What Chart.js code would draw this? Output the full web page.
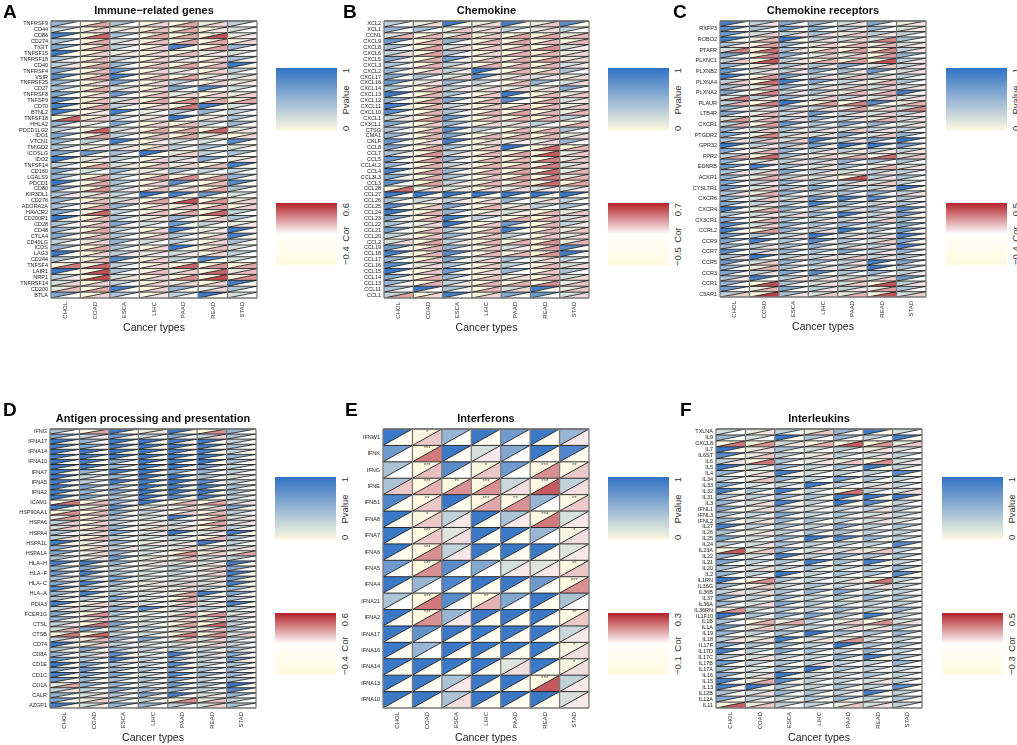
<!DOCTYPE html>
<html>
<head>
<meta charset="utf-8">
<script src="https://cdn.jsdelivr.net/npm/chart.js@4.4.1/dist/chart.umd.min.js"></script>
<style>
body { margin: 0; background: #fff; width: 1017px; height: 745px; position: relative; overflow: hidden; font-family: "Liberation Sans", Arial, sans-serif; }
canvas { position: absolute; }
.tag { position: absolute; font-weight: bold; font-size: 19px; line-height: 19px; color: #000; font-family: "Liberation Sans", Arial, sans-serif; }
.ttl { position: absolute; font-weight: bold; line-height: 14px; color: #111; white-space: nowrap; transform: translateX(-50%); }
.bar { position: absolute; width: 61px; }
.lg { position: absolute; color: #333; writing-mode: vertical-rl; white-space: nowrap; }
</style>
</head>
<body>
<script>
const cancerTypes = ['CHOL', 'COAD', 'ESCA', 'LIHC', 'PAAD', 'READ', 'STAD'];

// ---- A: immune-related genes
const genesA = ['TNFRSF9','CD44','CD86','CD274','TIGIT','TNFSF15','TNFRSF18','CD40','TNFRSF4','VSIR','TNFRSF25','CD27','TNFRSF8','TNFSF9','CD70','BTNL2','TNFSF18','HHLA2','PDCD1LG2','IDO1','VTCN1','TMIGD2','ICOSLG','IDO2','TNFSF14','CD160','LGALS9','PDCD1','CD80','KIR3DL1','CD276','ADORA2A','HAVCR2','CD200R1','CD28','CD48','CTLA4','CD40LG','ICOS','LAG3','CD244','TNFSF4','LAIR1','NRP1','TNFRSF14','CD200','BTLA'];
const pvalA = [
[.5,.0,.4,.0,.0,.1,.3],[.3,.0,.1,.0,.0,.0,.2],[.9,.0,.4,.0,.0,.0,.1],[.4,.0,.2,.0,.0,.0,.0],
[.6,.0,.3,.0,.9,.0,.5],[.95,.0,.1,.0,.0,.1,.2],[.4,.0,.3,.0,.1,.0,.4],[.3,.0,.5,.0,.0,.0,.95],
[.6,.0,.7,.0,.1,.0,.3],[.8,.0,.9,.0,.0,.1,.2],[.5,.0,.6,.0,.3,.0,.1],[.4,.0,.2,.0,.6,.8,.2],
[.6,.0,.7,.0,.1,.0,.1],[.8,.0,.2,.0,.0,.0,.0],[.9,.0,.3,.0,.0,.9,.2],[.9,.0,.9,.1,.4,.5,.3],
[.0,.0,.3,.1,.95,.1,.4],[.5,.1,.6,.0,.0,.3,.5],[.3,.0,.2,.0,.0,.0,.1],[.6,.0,.3,.0,.0,.1,.0],
[.5,.3,.9,.0,.2,.2,.8],[.4,.1,.2,.0,.3,.4,.2],[.6,.7,.4,.95,.1,.3,.4],[.95,.1,.3,.0,.2,.6,.1],
[.3,.0,.2,.0,.1,.0,.9],[.6,.2,.5,.1,.4,.3,.3],[.5,.0,.3,.0,.0,.0,.5],[.95,.0,.4,.0,.8,.0,.8],
[.6,.0,.3,.0,.1,.0,.4],[.4,.1,.3,.95,.9,.7,.2],[.5,.0,.2,.0,.0,.0,.1],[.4,.0,.5,.0,.0,.0,.0],
[.6,.0,.3,.0,.0,.0,.3],[.95,.0,.4,.1,.5,.0,.4],[.4,.0,.6,.2,.7,.3,.1],[.5,.0,.3,.0,.9,.1,.95],
[.6,.0,.4,.0,.4,.0,.9],[.3,.1,.5,.2,.3,.0,.4],[.5,.0,.4,.0,.95,.0,.2],[.95,.0,.3,.1,.2,.0,.3],
[.4,.0,.8,.0,.3,.8,.2],[.0,.0,.3,.0,.0,.0,.0],[.95,.0,.4,.0,.1,.0,.1],[.3,.0,.2,.0,.0,.0,.0],
[.2,.0,.3,.0,.1,.0,.9],[.1,.0,.9,.0,.5,.1,.4],[.6,.0,.4,.0,.3,.95,.2]
];
const corA = [
[.1,.3,.1,.2,.3,.2,.1],[.0,.2,.15,.25,.3,.15,.1],[.05,.45,.1,.3,.3,.5,.15],[.1,.3,.15,.25,.3,.3,.2],
[.05,.3,.1,.2,.0,.3,.1],[.0,.2,.15,.2,.25,.15,.1],[.1,.25,.1,.2,.15,.2,.05],[.15,.3,.05,.25,.3,.25,.0],
[.05,.25,.05,.2,.15,.2,.1],[.0,.3,.0,.25,.3,.15,.15],[.05,.2,.05,.2,.1,.2,.15],[.1,.3,.15,.2,.05,.0,.1],
[.05,.2,.05,.25,.2,.2,.2],[.05,.25,.2,.3,.35,.3,.3],[.0,.3,.1,.2,.4,.0,.1],[.0,.15,.0,.1,.05,.05,.1],
[.45,.2,.1,.15,.0,.15,.05],[.05,.1,.05,.2,.25,.1,.05],[.1,.45,.15,.3,.3,.45,.15],[.05,.3,.1,.25,.3,.15,.2],
[.05,.1,.0,.15,.1,.1,.0],[.1,.15,.15,.2,.1,.05,.1],[.05,.0,.1,.0,.2,.1,.05],[.0,.15,.1,.2,.15,.05,.15],
[.1,.3,.15,.25,.2,.25,.0],[.05,.1,.05,.15,.1,.1,.1],[.1,.3,.1,.3,.35,.3,.05],[.0,.3,.1,.2,.0,.25,.0],
[.05,.35,.15,.25,.2,.3,.05],[.15,.2,.1,.0,.0,.0,.1],[.05,.25,.2,.3,.5,.35,.2],[.1,.3,.05,.2,.25,.3,.2],
[.1,.45,.1,.25,.3,.45,.1],[.0,.25,.1,.15,.05,.2,.05],[.1,.25,.05,.1,.0,.1,.15],[.05,.3,.1,.2,.0,.15,.0],
[.05,.25,.1,.2,.1,.2,.0],[.1,.2,.05,.1,.1,.2,.05],[.05,.3,.1,.2,.0,.25,.1],[.0,.2,.15,.15,.15,.2,.1],
[.1,.25,.0,.2,.1,.0,.1],[.4,.45,.1,.2,.45,.35,.3],[.0,.5,.1,.25,.2,.45,.25],[.15,.5,.15,.2,.35,.5,.35],
[.2,.2,.1,.2,.2,.2,.0],[.25,.3,.0,.2,.05,.2,.1],[.05,.2,.1,.15,.1,.0,.1]
];

// ---- B: chemokine
const genesB = ['XCL2','XCL1','CCN1','CXCL9','CXCL8','CXCL6','CXCL5','CXCL3','CXCL2','CXCL17','CXCL16','CXCL14','CXCL13','CXCL12','CXCL11','CXCL10','CXCL1','CX3CL1','CTSG','CMA1','CKLF','CCL8','CCL7','CCL5','CCL4L2','CCL4','CCL3L3','CCL3','CCL28','CCL27','CCL26','CCL25','CCL24','CCL23','CCL22','CCL21','CCL20','CCL2','CCL19','CCL18','CCL17','CCL16','CCL15','CCL14','CCL13','CCL11','CCL1'];
const pvalB = [
[.3,.1,.95,.1,.9,.1,.8],[.5,.4,.1,.1,.3,.1,.3],[.2,.0,.1,.0,.0,.0,.1],[.7,.0,.5,.0,.0,.0,.0],
[.4,.0,.2,.0,.0,.0,.2],[.3,.0,.4,.0,.0,.0,.1],[.6,.0,.7,.0,.0,.0,.1],[.4,.0,.3,.0,.0,.0,.2],
[.5,.0,.3,.95,.0,.0,.4],[.6,.4,.2,.8,.1,.2,.1],[.7,.1,.5,.3,.0,.5,.2],[.4,.0,.3,.1,.1,.1,.6],
[.95,.0,.4,.0,.95,.0,.1],[.5,.0,.6,.0,.8,.0,.2],[.9,.0,.3,.0,.0,.0,.1],[.8,.0,.4,.0,.0,.0,.1],
[.3,.0,.7,.0,.0,.0,.3],[.6,.0,.5,.0,.1,.3,.0],[.4,.0,.8,.3,.0,.0,.4],[.5,.0,.6,.0,.0,.0,.1],
[.7,.0,.9,.0,.1,.1,.5],[.6,.0,.4,.0,.95,.0,.0],[.4,.0,.3,.0,.0,.0,.1],[.7,.0,.5,.0,.0,.0,.1],
[.5,.0,.3,.0,.0,.0,.2],[.9,.0,.5,.0,.0,.0,.1],[.6,.0,.4,.0,.0,.0,.1],[.8,.0,.3,.0,.0,.0,.0],
[.0,.1,.2,.0,.1,.2,.2],[.95,.95,.95,.95,.95,.95,.95],[.4,.2,.3,.0,.5,.1,.3],[.8,.0,.6,.0,.1,.3,.4],
[.95,.0,.5,.0,.2,.0,.1],[.6,.0,.9,.3,.0,.0,.2],[.4,.1,.95,.0,.7,.0,.3],[.7,.0,.4,.0,.9,.0,.1],
[.3,.0,.5,.0,.3,.0,.1],[.2,.0,.3,.0,.0,.0,.1],[.7,.0,.5,.0,.2,.0,.8],[.9,.0,.8,.0,.0,.0,.9],
[.5,.0,.6,.1,.4,.1,.3],[.8,.1,.4,.0,.3,.0,.2],[.95,.0,.7,.0,.5,.0,.4],[.6,.0,.5,.0,.1,.0,.2],
[.5,.0,.3,.0,.0,.0,.1],[.4,.95,.4,.0,.2,.9,.1],[.3,.0,.9,.0,.6,.7,.2]
];
const corB = [
[.1,.2,.0,.2,.0,.25,.0],[.05,.1,.25,.2,.1,.2,.1],[.3,.3,.3,.25,.35,.35,.3],[.05,.3,.1,.3,.35,.3,.3],
[.1,.35,.2,.25,.3,.4,.15],[.2,.35,.1,.2,.3,.3,.2],[.1,.3,.05,.25,.3,.35,.2],[.1,.3,.15,.3,.3,.3,.15],
[.05,.25,.15,.0,.3,.25,.1],[.05,.1,.2,.0,.2,.15,.2],[.0,.2,.1,.1,.3,.05,.2],[.1,.3,.15,.2,.2,.2,.05],
[.0,.3,.1,.25,.0,.3,.25],[.1,.35,.05,.3,.05,.35,.15],[.0,.3,.15,.25,.3,.3,.25],[.05,.3,.1,.3,.35,.3,.3],
[.15,.35,.05,.25,.3,.3,.1],[.05,.25,.1,.2,.2,.1,.3],[.1,.3,.0,.1,.3,.3,.1],[.1,.3,.05,.3,.3,.3,.2],
[.0,.2,.0,.2,.15,.2,.05],[.05,.35,.1,.25,.0,.5,.3],[.15,.4,.15,.3,.35,.55,.25],[.05,.35,.1,.3,.3,.45,.25],
[.1,.3,.15,.3,.3,.45,.2],[.0,.35,.1,.3,.35,.5,.3],[.05,.3,.1,.25,.35,.45,.3],[.05,.35,.15,.3,.3,.5,.35],
[.5,.2,.15,.2,.2,.15,.15],[.0,.0,.0,.0,.0,.0,.0],[.1,.15,.15,.2,.1,.2,.1],[.0,.25,.05,.3,.2,.1,.05],
[.0,.3,.1,.2,.15,.3,.25],[.05,.3,.0,.1,.3,.3,.2],[.1,.2,.0,.25,.05,.3,.15],[.05,.3,.1,.3,.0,.3,.25],
[.15,.25,.1,.25,.1,.25,.2],[.2,.35,.15,.3,.3,.4,.3],[.05,.3,.1,.25,.15,.35,.0],[.0,.3,.05,.3,.3,.4,.0],
[.1,.25,.05,.2,.1,.2,.1],[.05,.2,.1,.25,.1,.3,.2],[.0,.25,.05,.2,.1,.25,.1],[.05,.3,.1,.25,.2,.3,.2],
[.1,.3,.15,.3,.3,.4,.25],[.1,.0,.1,.3,.2,.0,.25],[.35,.2,.0,.2,.05,.05,.2]
];

// ---- C: chemokine receptors (only every other row is labelled)
const genesC = ['','RXFP3','','ROBO2','','PTAFR','','PLXNC1','','PLXNB2','','PLXNA4','','PLXNA2','','PLAUR','','LTB4R','','CXCR1','','PTGDR2','','GPR32','','FPR2','','EDNRB','','ACKR1','','CYSLTR1','','CXCR6','','CXCR4','','CX3CR1','','CCRL2','','CCR9','','CCR7','','CCR5','','CCR3','','CCR1','','C5AR1'];
const pvalC = [
[.9,.3,.6,.5,.2,.6,.1],[.8,.4,.7,.6,.3,.5,.2],[.7,.2,.3,.4,.1,.3,.3],[.9,.1,.95,.3,.2,.2,.4],
[.4,.0,.5,.1,.0,.1,.2],[.2,.0,.4,.0,.0,.0,.3],[.6,.0,.5,.1,.1,.0,.5],[.3,.0,.3,.0,.0,.0,.3],
[.5,.1,.4,.4,.6,.2,.3],[.7,.2,.3,.5,.4,.7,.2],[.9,.0,.6,.3,.2,.3,.3],[.3,.0,.9,.6,.3,.1,.4],
[.4,.1,.5,.3,.2,.2,.2],[.6,.0,.3,.4,.1,.1,.9],[.2,.3,.5,.2,.3,.2,.2],[.3,.0,.95,.0,.0,.8,.1],
[.5,.2,.4,.3,.1,.1,.2],[.6,.1,.3,.7,.3,.2,.3],[.2,.1,.3,.5,.3,.1,.2],[.3,.0,.7,.4,.6,.5,.2],
[.5,.2,.4,.3,.2,.3,.3],[.6,.1,.3,.2,.6,.2,.5],[.4,.3,.2,.9,.3,.6,.95],[.95,.3,.4,.7,.95,.95,.7],
[.6,.1,.5,.3,.3,.3,.3],[.3,.0,.4,.1,.1,.0,.2],[.5,.2,.3,.3,.5,.4,.4],[.7,.9,.4,.2,.4,.1,.2],
[.4,.2,.6,.3,.2,.3,.3],[.5,.1,.3,.2,.0,.3,.4],[.6,.3,.5,.4,.3,.2,.3],[.7,.2,.4,.6,.4,.3,.95],
[.4,.1,.5,.3,.4,.5,.3],[.5,.2,.3,.7,.9,.8,.4],[.6,.3,.4,.9,.5,.3,.4],[.95,.1,.5,.4,.3,.4,.8],
[.4,.2,.3,.5,.9,.3,.7],[.6,.1,.4,.3,.3,.2,.5],[.8,.2,.5,.4,.5,.4,.6],[.9,.0,.5,.3,.95,.4,.7],
[.7,.4,.3,.95,.3,.3,.9],[.6,.9,.4,.8,.4,.2,.6],[.5,.3,.4,.5,.3,.3,.9],[.8,.3,.5,.4,.6,.3,.5],
[.4,.95,.3,.3,.2,.3,.4],[.7,.2,.5,.4,.3,.9,.6],[.5,.1,.4,.3,.3,.95,.4],[.6,.3,.6,.8,.4,.5,.3],
[.4,.9,.3,.3,.2,.2,.7],[.5,.0,.4,.2,.2,.0,.3],[.7,.1,.6,.3,.3,.1,.4],[.3,.0,.4,.2,.1,.0,.2]
];
const corC = [
[.0,.1,.05,.05,.1,.05,.1],[.0,.05,.0,.05,.1,.05,.1],[.05,.15,.1,.1,.15,.1,.05],[.0,.2,.0,.1,.15,.3,.05],
[.1,.25,.05,.15,.2,.2,.1],[.3,.35,.1,.2,.25,.3,.1],[.05,.3,.05,.15,.15,.25,.05],[.15,.4,.1,.2,.25,.4,.1],
[.05,.15,.1,.1,.05,.15,.1],[.05,.1,.1,.05,.1,.0,.1],[.0,.25,.05,.1,.15,.1,.05],[.15,.35,.0,.05,.1,.2,.05],
[.1,.2,.05,.1,.15,.15,.1],[.05,.3,.1,.1,.2,.2,.0],[.3,.1,.05,.15,.1,.15,.1],[.2,.3,.0,.25,.3,.0,.2],
[.05,.1,.1,.1,.25,.15,.3],[.05,.2,.1,.0,.1,.15,.1],[.25,.2,.1,.05,.1,.2,.1],[.2,.25,.05,.05,.05,.05,.1],
[.05,.15,.1,.1,.15,.1,.05],[.05,.3,.1,.1,.05,.15,.05],[.1,.15,.15,.0,.1,.05,.0],[.0,.1,.1,.0,.0,.0,.0],
[.05,.2,.05,.1,.1,.1,.1],[.2,.35,.1,.15,.2,.35,.15],[.05,.1,.1,.1,.05,.05,.05],[.05,.0,.05,.1,.05,.2,.1],
[.1,.15,.05,.1,.1,.1,.05],[.05,.2,.1,.1,.4,.1,.05],[.05,.1,.05,.05,.1,.15,.05],[.0,.15,.1,.05,.05,.1,.0],
[.1,.2,.05,.1,.05,.05,.1],[.05,.15,.1,.0,.0,.0,.05],[.05,.1,.05,.0,.05,.1,.05],[.0,.2,.05,.05,.1,.05,.0],
[.05,.1,.1,.05,.0,.1,.0],[.05,.2,.05,.1,.1,.15,.05],[.0,.15,.05,.05,.05,.05,.05],[.0,.25,.05,.1,.0,.05,.0],
[.0,.05,.1,.0,.1,.1,.0],[.0,.0,.05,.0,.05,.15,.0],[.05,.1,.05,.05,.1,.1,.0],[.0,.1,.05,.05,.05,.1,.05],
[.1,.0,.1,.1,.15,.1,.05],[.0,.15,.05,.05,.1,.0,.05],[.05,.2,.05,.1,.1,.0,.05],[.0,.1,.05,.0,.05,.05,.1],
[.1,.0,.1,.1,.15,.15,.0],[.05,.4,.05,.1,.15,.4,.1],[.0,.2,.05,.1,.1,.25,.05],[.15,.45,.1,.15,.2,.4,.15]
];

// ---- D: antigen processing and presentation (every other row labelled)
const genesD = ['IFNG','','IFNA17','','IFNA14','','IFNA10','','IFNA7','','IFNA5','','IFNA2','','ICAM1','','HSP90AA1','','HSPA6','','HSPA4','','HSPA1L','','HSPA1A','','HLA\u2212H','','HLA\u2212F','','HLA\u2212C','','HLA\u2212A','','PDIA3','','FCER1G','','CTSL','','CTSB','','CD74','','CD8A','','CD1E','','CD1C','','CD1A','','CALR','','AZGP1'];
const pvalD = [
[.4,.0,.95,.1,.95,.0,.5],[.6,.3,.7,.3,.6,.3,.4],[.95,.5,.95,.95,.9,.95,.3],[.9,.6,.9,.95,.95,.9,.4],
[.95,.95,.95,.95,.9,.9,.3],[.9,.9,.95,.95,.95,.9,.5],[.95,.9,.6,.95,.9,.95,.4],[.95,.9,.5,.9,.95,.7,.3],
[.9,.5,.9,.95,.6,.5,.3],[.95,.3,.5,.95,.95,.4,.2],[.9,.3,.9,.9,.95,.8,.3],[.95,.6,.5,.95,.9,.9,.4],
[.9,.5,.6,.95,.95,.95,.4],[.95,.6,.4,.95,.8,.9,.3],[.0,.0,.5,.95,.0,.0,.2],[.9,.1,.8,.2,.1,.1,.6],
[.0,.0,.6,.3,.0,.0,.3],[.1,.0,.4,.2,.9,.0,.2],[.3,.0,.3,.1,.3,.0,.2],[.2,.0,.5,.1,.2,.0,.3],
[.4,.1,.6,.2,.95,.2,.9],[.3,.0,.3,.2,.3,.0,.4],[.9,.1,.5,.1,.2,.9,.3],[.5,.0,.3,.2,.1,.1,.2],
[.6,.1,.5,.2,.0,.1,.1],[.4,.1,.7,.1,.1,.2,.3],[.9,.9,.5,.1,.2,.2,.9],[.5,.6,.3,.1,.3,.1,.6],
[.7,.9,.4,.2,.3,.1,.9],[.4,.5,.6,.2,.2,.2,.7],[.6,.9,.5,.1,.2,.2,.9],[.8,.5,.3,.1,.1,.3,.5],
[.5,.9,.4,.2,.1,.9,.6],[.4,.3,.6,.2,.0,.3,.4],[.9,.1,.3,.2,.1,.2,.9],[.3,.2,.5,.8,.2,.3,.3],
[.6,.0,.4,.1,.1,.0,.2],[.5,.1,.3,.2,.1,.1,.3],[.3,.0,.6,.2,.0,.0,.3],[.2,.6,.4,.3,.1,.1,.4],
[.0,.0,.3,.2,.0,.0,.2],[.3,.1,.5,.6,.1,.2,.3],[.95,.1,.3,.2,.2,.1,.3],[.4,.6,.5,.3,.3,.3,.4],
[.5,.3,.8,.2,.9,.3,.6],[.7,.4,.9,.3,.6,.3,.7],[.95,.6,.4,.3,.8,.3,.4],[.6,.7,.5,.4,.6,.4,.5],
[.9,.6,.6,.3,.8,.5,.5],[.7,.5,.4,.4,.6,.3,.4],[.1,.5,.5,.3,.7,.4,.95],[.3,.3,.6,.4,.5,.3,.8],
[.5,.2,.4,.6,.9,.2,.5],[.6,.1,.3,.3,.0,.1,.3],[.9,.2,.5,.5,.3,.2,.4]
];
const corD = [
[.1,.3,.0,.15,.0,.35,.05],[.05,.15,.0,.1,.05,.2,.05],[.0,.05,.0,.0,.0,.0,.1],[.0,.05,.0,.0,.0,.0,.05],
[.0,.0,.0,.0,.0,.0,.05],[.0,.0,.0,.0,.0,.0,.05],[.0,.0,.05,.0,.0,.0,.05],[.0,.0,.05,.0,.0,.05,.1],
[.0,.05,.0,.0,.05,.1,.1],[.0,.1,.05,.0,.0,.1,.1],[.0,.1,.0,.0,.0,.0,.05],[.0,.05,.05,.0,.0,.0,.05],
[.0,.05,.05,.0,.0,.0,.05],[.0,.05,.1,.0,.0,.0,.1],[.4,.25,.05,.0,.25,.3,.15],[.0,.2,.0,.15,.2,.2,.05],
[.35,.25,.05,.1,.2,.25,.1],[.3,.2,.1,.1,.0,.3,.15],[.2,.2,.1,.15,.1,.3,.15],[.2,.25,.05,.2,.15,.25,.1],
[.1,.2,.05,.15,.0,.15,.0],[.15,.25,.1,.1,.1,.25,.1],[.0,.15,.05,.15,.15,.0,.1],[.05,.2,.15,.1,.2,.2,.15],
[.05,.2,.05,.1,.35,.2,.3],[.1,.15,.05,.15,.25,.15,.1],[.0,.0,.05,.15,.15,.15,.0],[.05,.05,.1,.1,.1,.2,.05],
[.05,.0,.1,.1,.1,.2,.0],[.05,.05,.05,.1,.15,.15,.0],[.05,.0,.05,.15,.2,.15,.0],[.0,.1,.1,.15,.2,.1,.05],
[.05,.0,.1,.1,.3,.0,.05],[.1,.1,.05,.1,.3,.1,.05],[.0,.2,.15,.1,.25,.15,.0],[.15,.15,.05,.0,.15,.1,.1],
[.05,.35,.1,.1,.3,.35,.15],[.05,.25,.1,.1,.2,.25,.1],[.15,.4,.05,.1,.3,.45,.1],[.25,.05,.05,.1,.2,.25,.05],
[.4,.45,.1,.1,.4,.35,.2],[.15,.25,.05,.05,.2,.2,.1],[.0,.2,.1,.1,.15,.2,.1],[.05,.05,.05,.1,.1,.1,.05],
[.05,.15,.0,.1,.0,.15,.05],[.0,.1,.0,.1,.05,.1,.0],[.0,.05,.05,.1,.0,.1,.05],[.05,.05,.05,.05,.05,.05,.05],
[.0,.05,.05,.1,.0,.05,.05],[.0,.05,.05,.05,.05,.1,.05],[.3,.05,.05,.1,.05,.05,.0],[.15,.1,.05,.05,.05,.1,.0],
[.05,.15,.1,.05,.0,.15,.05],[.05,.2,.1,.1,.35,.25,.1],[.0,.15,.05,.05,.1,.2,.05]
];

// ---- E: interferons
const genesE = ['IFNW1','IFNK','IFNG','IFNE','IFNB1','IFNA8','IFNA7','IFNA6','IFNA5','IFNA4','IFNA21','IFNA2','IFNA17','IFNA16','IFNA14','IFNA13','IFNA10'];
const pvalE = [
[.95,.03,.5,.95,.7,.95,.5],[.7,.0004,.95,.2,.6,.95,.85],[.4,.0004,.8,.03,.7,.0004,.005],
[.4,.0004,.005,.0004,.25,.0004,.3],[.85,.005,.95,.0004,.005,.5,.005],[.95,.03,.3,.95,.4,.0004,.2],
[.95,.0004,.15,.95,.95,.5,.03],[.95,.0004,.3,.95,.95,.95,.15],[.7,.0004,.8,.6,.2,.15,.005],
[.95,.5,.85,.95,.95,.7,.0004],[.4,.0004,.8,.005,.6,.95,.4],[.95,.0004,.5,.95,.95,.95,.005],
[.95,.75,.95,.95,.95,.95,.25],[.95,.5,.95,.95,.95,.95,.03],[.95,.95,.95,.95,.15,.95,.03],
[.95,.95,.4,.95,.95,.0004,.3],[.95,.95,.4,.95,.95,.95,.2]
];
const corE = [
[.05,.15,.1,.05,.08,.05,.12],[.08,.22,.05,.12,.1,.05,.05],[.1,.16,.08,.15,.1,.2,.15],
[.15,.17,.2,.2,.13,.25,.13],[.05,.15,.05,.18,.2,.1,.15],[.05,.15,.12,.05,.12,.22,.12],
[.05,.15,.13,.05,.05,.1,.13],[.05,.2,.12,.05,.05,.05,.12],[.08,.2,.1,.1,.12,.12,.15],
[.05,.1,.05,.05,.05,.08,.2],[.1,.22,.08,.17,.1,.05,.1],[.05,.2,.12,.05,.05,.05,.15],
[.05,.08,.05,.05,.05,.05,.12],[.05,.1,.05,.05,.05,.05,.13],[.05,.05,.05,.05,.13,.05,.13],
[.05,.05,.12,.05,.05,.25,.12],[.05,.05,.13,.05,.05,.05,.12]
];

// ---- F: interleukins
const genesF = ['TXLNA','IL9','CXCL8','IL7','IL6ST','IL6','IL5','IL4','IL34','IL33','IL32','IL31','IL3','IFNL1','IFNL3','IFNL2','IL27','IL26','IL25','IL24','IL23A','IL22','IL21','IL20','IL2','IL1RN','IL36G','IL36B','IL37','IL36A','IL36RN','IL1F10','IL1B','IL1A','IL19','IL18','IL17F','IL17D','IL17C','IL17B','IL17A','IL16','IL15','IL13','IL12B','IL12A','IL11'];
const pvalF = [
[.2,.1,.3,.1,.5,.95,.2],[.5,.2,.95,.4,.5,.3,.9],[.0,.0,.2,.0,.0,.0,.1],[.95,.1,.4,.2,.3,.1,.2],
[.8,.1,.3,.1,.3,.2,.3],[.3,.0,.4,.1,.1,.0,.2],[.95,.2,.5,.3,.4,.9,.3],[.5,.1,.9,.2,.3,.3,.8],
[.3,.1,.5,.3,.7,.4,.3],[.6,.2,.3,.95,.3,.2,.3],[.9,.4,.9,.3,.0,.3,.2],[.4,.3,.5,.4,.9,.95,.95],
[.5,.2,.9,.3,.95,.8,.3],[.6,.1,.4,.2,.3,.3,.4],[.4,.3,.6,.3,.4,.2,.3],[.5,.2,.5,.4,.3,.2,.2],
[.9,.3,.4,.3,.6,.3,.4],[.4,.1,.3,.4,.4,.3,.3],[.6,.2,.5,.95,.8,.5,.3],[.3,.2,.4,.3,.3,.3,.8],
[.0,.1,.5,.2,.2,.1,.3],[.5,.2,.9,.3,.5,.4,.4],[.6,.3,.4,.9,.4,.9,.3],[.4,.2,.3,.4,.3,.3,.5],
[.5,.3,.95,.3,.4,.4,.8],[.95,.0,.4,.3,.2,.0,.3],[.5,.1,.3,.4,.3,.2,.3],[.3,.2,.4,.5,.6,.3,.3],
[.6,.3,.5,.3,.4,.5,.4],[.5,.2,.6,.4,.3,.3,.3],[.1,.3,.4,.3,.5,.3,.5],[.95,.4,.5,.6,.4,.9,.3],
[.4,.0,.1,.3,.1,.0,.2],[.7,.1,.3,.3,.2,.1,.4],[.5,.3,.4,.95,.4,.4,.5],[.3,.1,.9,.2,.1,.2,.3],
[.6,.4,.5,.3,.95,.4,.4],[.9,.3,.6,.4,.3,.5,.3],[.4,.2,.3,.3,.5,.9,.4],[.7,.3,.4,.3,.3,.3,.5],
[.5,.2,.5,.95,.4,.3,.3],[.6,.2,.95,.3,.3,.4,.3],[.9,.1,.8,.3,.3,.2,.3],[.9,.95,.4,.3,.4,.3,.8],
[.4,.2,.5,.4,.3,.9,.3],[.6,.3,.3,.4,.5,.3,.4],[.0,.1,.3,.3,.1,.2,.3]
];
const corF = [
[.1,.15,.1,.2,.05,.0,.1],[.05,.1,.0,.05,.05,.1,.0],[.35,.3,.15,.25,.4,.3,.2],[.0,.15,.05,.1,.1,.15,.1],
[.0,.2,.1,.15,.1,.15,.1],[.15,.35,.05,.15,.2,.3,.15],[.0,.1,.05,.1,.05,.0,.1],[.05,.15,.0,.1,.1,.1,.0],
[.1,.2,.05,.1,.05,.05,.1],[.05,.1,.1,.0,.1,.15,.1],[.0,.05,.0,.1,.35,.1,.15],[.05,.1,.05,.05,.0,.0,.0],
[.05,.15,.0,.1,.0,.0,.1],[.05,.15,.05,.1,.1,.15,.05],[.05,.1,.05,.1,.05,.15,.1],[.05,.15,.05,.05,.1,.15,.1],
[.0,.1,.05,.1,.05,.1,.05],[.05,.15,.1,.05,.05,.1,.1],[.05,.1,.05,.0,.0,.05,.1],[.1,.15,.05,.1,.1,.1,.0],
[.4,.2,.05,.15,.15,.2,.1],[.05,.1,.0,.1,.05,.05,.05],[.05,.1,.05,.0,.05,.0,.1],[.1,.15,.1,.05,.1,.1,.05],
[.05,.1,.0,.1,.05,.05,.0],[.0,.3,.1,.1,.15,.35,.1],[.05,.2,.1,.05,.1,.15,.1],[.15,.15,.1,.05,.05,.1,.1],
[.05,.1,.05,.1,.05,.05,.05],[.05,.15,.05,.05,.1,.1,.1],[.3,.1,.05,.1,.05,.1,.05],[.0,.05,.05,.05,.05,.0,.1],
[.1,.25,.25,.1,.2,.3,.15],[.05,.2,.1,.1,.15,.15,.05],[.05,.1,.05,.0,.05,.05,.05],[.15,.15,.0,.15,.3,.1,.1],
[.05,.05,.05,.1,.0,.05,.05],[.0,.1,.05,.05,.1,.05,.1],[.1,.15,.1,.1,.05,.0,.05],[.0,.1,.05,.15,.1,.1,.05],
[.05,.1,.05,.0,.05,.1,.1],[.05,.15,.0,.1,.1,.05,.1],[.0,.25,.0,.1,.1,.15,.1],[.0,.0,.05,.1,.05,.1,.0],
[.05,.15,.05,.05,.1,.0,.1],[.05,.1,.1,.05,.05,.1,.05],[.4,.2,.1,.1,.2,.15,.1]
];

// colour ranges of the Cor legends
const corRanges = { A: [-0.4, 0.6], B: [-0.5, 0.7], C: [-0.4, 0.5], D: [-0.4, 0.6], E: [-0.1, 0.3], F: [-0.3, 0.5] };

// the figure text is set in a condensed face; use Liberation Sans Narrow when it is there
function hasFont(name) {
	const c = document.createElement('canvas').getContext('2d');
	c.font = '20px monospace';
	const w0 = c.measureText('Cancer types CXCL17').width;
	c.font = '20px "' + name + '", monospace';
	return Math.abs(c.measureText('Cancer types CXCL17').width - w0) > 1;
}
const narrow = hasFont('Liberation Sans Narrow');
const family = narrow ? '"Liberation Sans Narrow", "Liberation Sans", Arial, sans-serif' : '"Liberation Sans", Arial, sans-serif';
const sz = narrow
	? { y: 6.6, x: 7, axis: 12, title: 12.5, legend: 11 }
	: { y: 5.5, x: 6, axis: 10.5, title: 11, legend: 9.5 };
Chart.defaults.font.family = family;

const cream = [254, 250, 226], paleCream = [255, 253, 242], white = [255, 255, 255];
const blue = [49, 113, 196], red = [178, 34, 40];

function mix(a, b, t) {
	t = Math.min(1, Math.max(0, t));
	return a.map((v, i) => Math.round(v + (b[i] - v) * t));
}
function pColor(p) {
	return 'rgb(' + mix(cream, blue, p).join(',') + ')';
}
function corColor(r, lo, hi) {
	let t = Math.min(1, Math.max(0, (r - lo) / (hi - lo)));
	let c;
	if (t >= 0.5) c = mix(white, red, (t - 0.5) / 0.5);
	else if (t >= 0.38) c = mix(paleCream, white, (t - 0.38) / 0.12);
	else c = mix(cream, paleCream, t / 0.38);
	return 'rgb(' + c.join(',') + ')';
}
function stars(p) {
	if (p < 0.001) return '***';
	if (p < 0.01) return '**';
	if (p < 0.05) return '*';
	return '';
}

// draws every cell as two triangles: Pvalue (upper left) and Cor (lower right)
const splitCells = {
	id: 'splitCells',
	afterDatasetsDraw(chart, args, opts) {
		const ctx = chart.ctx;
		const xs = chart.scales.x, ys = chart.scales.y;
		const pts = chart.data.datasets[0].data;
		ctx.save();
		pts.forEach(d => {
			const x0 = xs.getPixelForValue(d.x - 0.5), x1 = xs.getPixelForValue(d.x + 0.5);
			const y0 = ys.getPixelForValue(d.y - 0.5), y1 = ys.getPixelForValue(d.y + 0.5);
			ctx.fillStyle = pColor(d.p);
			ctx.beginPath();
			ctx.moveTo(x0, y0); ctx.lineTo(x1, y0); ctx.lineTo(x0, y1); ctx.closePath();
			ctx.fill();
			ctx.fillStyle = corColor(d.r, opts.lo, opts.hi);
			ctx.beginPath();
			ctx.moveTo(x1, y0); ctx.lineTo(x1, y1); ctx.lineTo(x0, y1); ctx.closePath();
			ctx.fill();
		});
		// row lines and diagonals
		ctx.strokeStyle = '#1a1a1a';
		ctx.lineWidth = opts.lw;
		pts.forEach(d => {
			const x0 = xs.getPixelForValue(d.x - 0.5), x1 = xs.getPixelForValue(d.x + 0.5);
			const y0 = ys.getPixelForValue(d.y - 0.5), y1 = ys.getPixelForValue(d.y + 0.5);
			ctx.beginPath();
			ctx.moveTo(x0, y0); ctx.lineTo(x1, y0);
			ctx.moveTo(x0, y1); ctx.lineTo(x1, y0);
			ctx.stroke();
		});
		// significance marks
		ctx.fillStyle = '#555';
		ctx.font = opts.starSize + 'px ' + family;
		ctx.textAlign = 'center';
		ctx.textBaseline = 'middle';
		pts.forEach(d => {
			const s = stars(d.p);
			if (!s) return;
			const cx = xs.getPixelForValue(d.x);
			const y0 = ys.getPixelForValue(d.y - 0.5), y1 = ys.getPixelForValue(d.y + 0.5);
			ctx.fillText(s, cx, y0 + (y1 - y0) * opts.starPos);
		});
		// column lines and frame
		const area = chart.chartArea;
		ctx.strokeStyle = '#7a7a7a';
		ctx.lineWidth = 1.3;
		for (let i = 0; i <= cancerTypes.length; i++) {
			const x = xs.getPixelForValue(i - 0.5);
			ctx.beginPath();
			ctx.moveTo(x, area.top); ctx.lineTo(x, area.bottom);
			ctx.stroke();
		}
		ctx.beginPath();
		ctx.moveTo(area.left, area.top); ctx.lineTo(area.right, area.top);
		ctx.moveTo(area.left, area.bottom); ctx.lineTo(area.right, area.bottom);
		ctx.stroke();
		ctx.restore();
	}
};

const panels = [
	{ tag: 'A', title: 'Immune\u2212related genes', genes: genesA, pval: pvalA, cor: corA, box: [51, 21, 257, 298], leg: [276, 68, 131, 203, 265], tagAt: [3, 2] },
	{ tag: 'B', title: 'Chemokine', genes: genesB, pval: pvalB, cor: corB, box: [384, 21, 589, 298], leg: [608, 68, 131, 203, 266], tagAt: [343, 2] },
	{ tag: 'C', title: 'Chemokine receptors', genes: genesC, pval: pvalC, cor: corC, box: [720, 21, 926, 297], leg: [946, 68, 131, 203, 265], tagAt: [673, 2] },
	{ tag: 'D', title: 'Antigen processing and presentation', genes: genesD, pval: pvalD, cor: corD, box: [50, 429, 256, 708], leg: [275, 477, 540, 613, 675], tagAt: [3, 400] },
	{ tag: 'E', title: 'Interferons', genes: genesE, pval: pvalE, cor: corE, box: [383, 429, 589, 708], leg: [608, 477, 540, 613, 675], tagAt: [345, 400] },
	{ tag: 'F', title: 'Interleukins', genes: genesF, pval: pvalF, cor: corF, box: [716, 429, 922, 708], leg: [942, 477, 540, 613, 675], tagAt: [680, 400] }
];

function addDiv(cls, text, css) {
	const el = document.createElement('div');
	el.className = cls;
	el.textContent = text;
	Object.assign(el.style, css);
	document.body.appendChild(el);
	return el;
}

function gradientCss(fn) {
	const stops = [];
	for (let i = 0; i <= 20; i++) stops.push(fn(1 - i / 20) + ' ' + (i * 5) + '%');
	return 'linear-gradient(to bottom, ' + stops.join(', ') + ')';
}

function legendLabels(x, top, bottom, hiText, midText, loText) {
	const base = { left: x + 'px', fontFamily: family, fontSize: sz.legend + 'px', lineHeight: '10px' };
	addDiv('lg', hiText, Object.assign({ top: top + 'px', transform: 'rotate(180deg)' }, base));
	addDiv('lg', midText, Object.assign({ top: ((top + bottom) / 2) + 'px', transform: 'translateY(-50%) rotate(180deg)' }, base));
	addDiv('lg', loText, Object.assign({ top: bottom + 'px', transform: 'translateY(-100%) rotate(180deg)' }, base));
}

function fmt(v) {
	return String(v).replace('-', '\u2212');
}

panels.forEach(pn => {
	const [hl, ht, hr, hb] = pn.box;
	const yw = 46, xh = 36, padTop = 10, padRight = 10;
	const n = pn.genes.length;
	const rowH = (hb - ht) / n;
	const [lo, hi] = corRanges[pn.tag];

	const canvas = document.createElement('canvas');
	canvas.width = yw + (hr - hl) + padRight;
	canvas.height = padTop + (hb - ht) + xh;
	canvas.style.left = (hl - yw) + 'px';
	canvas.style.top = (ht - padTop) + 'px';
	document.body.appendChild(canvas);

	const points = [];
	pn.genes.forEach((g, row) => {
		cancerTypes.forEach((c, col) => {
			points.push({ x: col, y: row, p: pn.pval[row][col], r: pn.cor[row][col] });
		});
	});

	new Chart(canvas.getContext('2d'), {
		type: 'scatter',
		data: { datasets: [{ data: points, pointRadius: 0, pointHoverRadius: 0 }] },
		options: {
			responsive: false,
			animation: false,
			events: [],
			layout: { padding: { top: padTop, right: padRight, left: 0, bottom: 0 } },
			plugins: {
				legend: { display: false },
				tooltip: { enabled: false },
				splitCells: { lo: lo, hi: hi, lw: rowH > 10 ? 0.9 : 0.85, starSize: rowH > 10 ? 6 : 3.5, starPos: rowH > 10 ? 0.2 : 0.3 }
			},
			scales: {
				x: {
					type: 'linear',
					min: -0.5,
					max: cancerTypes.length - 0.5,
					afterBuildTicks: s => { s.ticks = cancerTypes.map((c, i) => ({ value: i })); },
					afterFit: s => { s.height = xh; },
					grid: { display: false, drawTicks: false },
					border: { display: false },
					ticks: {
						autoSkip: false,
						minRotation: 90,
						maxRotation: 90,
						padding: 4,
						color: '#333',
						font: { size: sz.x },
						callback: v => cancerTypes[v]
					},
					title: { display: true, text: 'Cancer types', color: '#222', font: { size: sz.axis }, padding: 0 }
				},
				y: {
					type: 'linear',
					reverse: true,
					min: -0.5,
					max: n - 0.5,
					afterBuildTicks: s => {
						s.ticks = pn.genes.map((g, i) => ({ value: i })).filter(t => pn.genes[t.value] !== '');
					},
					afterFit: s => { s.width = yw; },
					grid: { display: false, drawTicks: false },
					border: { display: false },
					ticks: {
						autoSkip: false,
						padding: 3,
						color: '#222',
						font: { size: sz.y },
						callback: v => pn.genes[v]
					}
				}
			}
		},
		plugins: [splitCells]
	});

	// panel letter and title
	addDiv('tag', pn.tag, { left: pn.tagAt[0] + 'px', top: pn.tagAt[1] + 'px' });
	addDiv('ttl', pn.title, { left: ((hl + hr) / 2) + 'px', top: (ht - 18) + 'px', fontFamily: family, fontSize: sz.title + 'px' });

	// colour legends
	const [lx, py0, py1, cy0, cy1] = pn.leg;
	addDiv('bar', '', { left: lx + 'px', top: py0 + 'px', height: (py1 - py0) + 'px', background: gradientCss(pColor) });
	addDiv('bar', '', { left: lx + 'px', top: cy0 + 'px', height: (cy1 - cy0) + 'px', background: gradientCss(t => corColor(lo + t * (hi - lo), lo, hi)) });
	legendLabels(lx + 65, py0, py1, '1', 'Pvalue', '0');
	legendLabels(lx + 65, cy0, cy1, fmt(hi), 'Cor', fmt(lo));
});
</script>
</body>
</html>
